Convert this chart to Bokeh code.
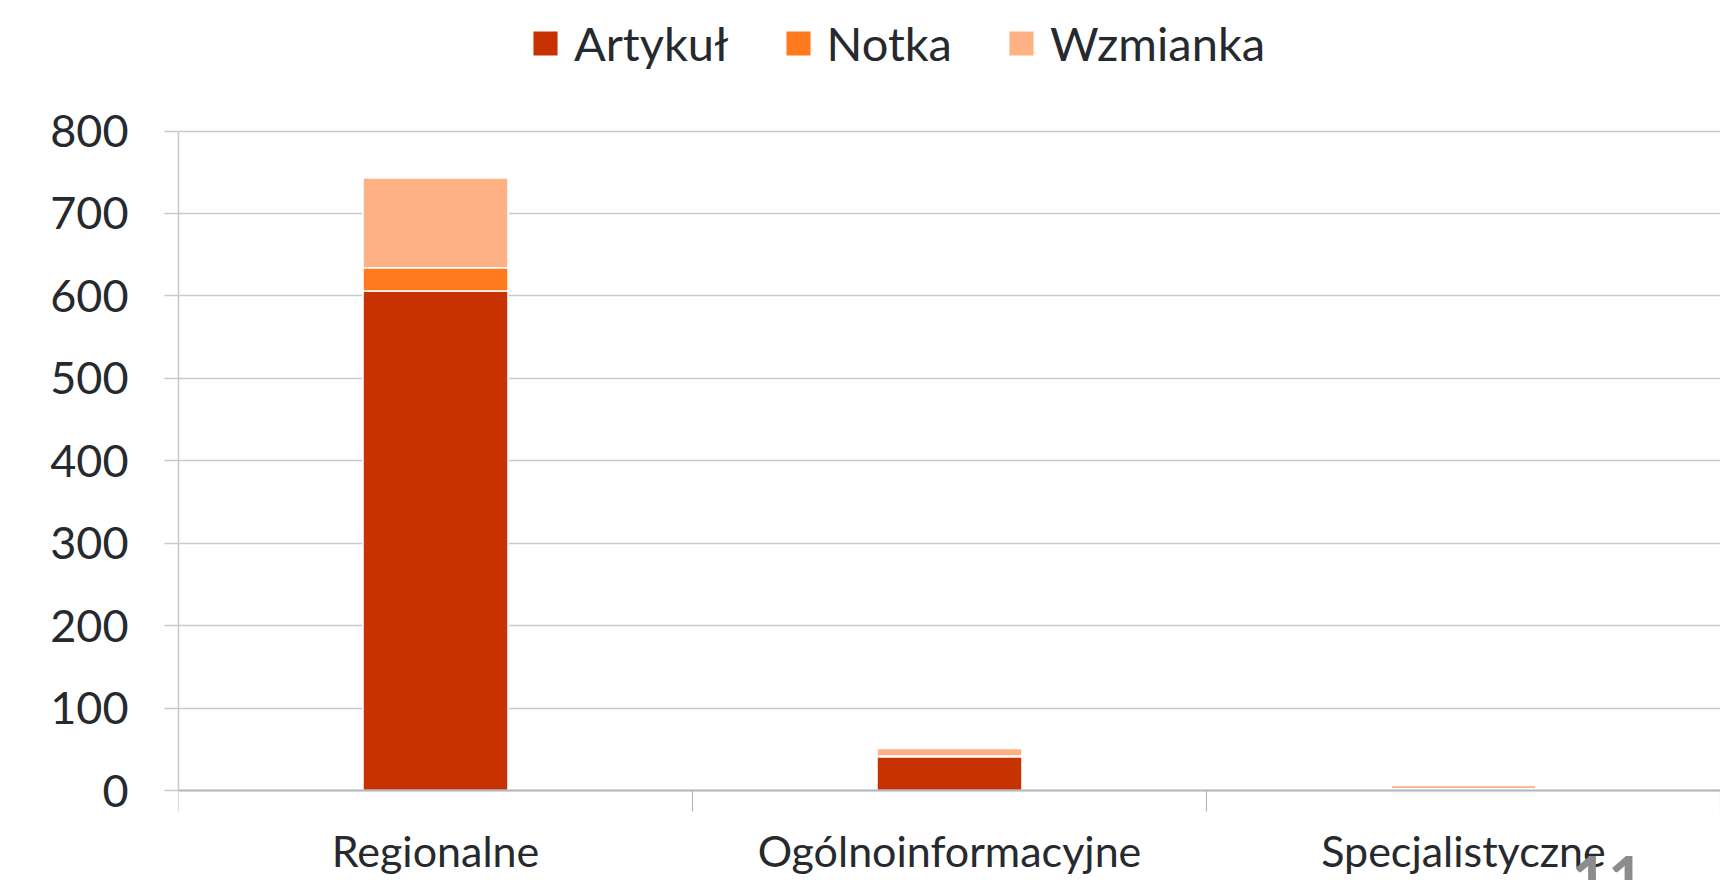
from bokeh.plotting import figure
from bokeh.models import (ColumnDataSource, Range1d, FixedTicker, Legend, LegendItem, Label)
from bokeh.embed import file_html
from bokeh.resources import INLINE

categories = ["Regionalne", "Ogólnoinformacyjne", "Specjalistyczne"]
series = ["Artykuł", "Notka", "Wzmianka"]
artykul = [606, 41, 2]
notka = [28, 1, 0]
wzmianka = [109, 9, 4]
colors = ["#C83200", "#FF7A1C", "#FFB186"]
y_ticks = [0, 100, 200, 300, 400, 500, 600, 700, 800]
page_number = "11"

FONT = "Lato"
TEXT = "#262A2E"
GRID = "#C6CACF"

# frame covers the whole canvas height; 0 sits at 790px, 800 at 130.5px
PX_PER_UNIT = (790 - 130.5) / 800
Y_TOP = 790 / PX_PER_UNIT
Y_BOTTOM = -(880 - 790) / PX_PER_UNIT

x = [i + 0.5 for i in range(len(categories))]
src = ColumnDataSource(dict(x=x, Artykuł=artykul, Notka=notka, Wzmianka=wzmianka))

p = figure(width=1720, height=880, output_backend="svg", toolbar_location=None,
           x_range=Range1d(0, len(categories)), y_range=Range1d(Y_BOTTOM, Y_TOP),
           min_border_left=178, min_border_right=0, min_border_top=0,
           min_border_bottom=0)
p.outline_line_color = None

rs = p.vbar_stack(series, x="x", width=0.282, source=src, color=colors,
                  line_color="white", line_width=1.5)

# axes
xa = p.xaxis[0]
xa.fixed_location = 0
xa.ticker = FixedTicker(ticks=x, minor_ticks=list(range(len(categories) + 1)))
xa.major_label_overrides = {xi: c for xi, c in zip(x, categories)}
xa.major_tick_out = 0
xa.major_tick_in = 0
xa.minor_tick_out = 21
xa.minor_tick_in = 0
xa.minor_tick_line_color = "#B4B9BE"
xa.minor_tick_line_width = 1.2
xa.axis_line_color = "#B4B9BE"
xa.axis_line_width = 2
xa.major_label_text_font = FONT
xa.major_label_text_font_size = "43px"
xa.major_label_text_color = TEXT
xa.major_label_standoff = 13

ya = p.yaxis[0]
ya.bounds = (0, 800)
ya.ticker = FixedTicker(ticks=y_ticks)
ya.minor_tick_line_color = None
ya.major_tick_out = 14
ya.major_tick_in = 0
ya.major_tick_line_color = GRID
ya.major_tick_line_width = 1.5
ya.axis_line_color = GRID
ya.axis_line_width = 1.5
ya.major_label_text_font = FONT
ya.major_label_text_font_size = "45px"
ya.major_label_text_color = TEXT
ya.major_label_standoff = 36

p.xgrid.grid_line_color = None
p.ygrid.ticker = FixedTicker(ticks=y_ticks)
p.ygrid.grid_line_color = GRID
p.ygrid.grid_line_width = 1.5

legend = Legend(items=[LegendItem(label=s, renderers=[r]) for s, r in zip(series, rs)],
                orientation="horizontal", location=(351, 809),
                glyph_width=32, glyph_height=32, label_standoff=13, spacing=53,
                padding=0, margin=0, border_line_color=None,
                background_fill_alpha=0,
                label_text_font=FONT, label_text_font_size="47px",
                label_text_color=TEXT)
p.add_layout(legend, "center")

page_no = Label(x=2.71, y=-79, text=page_number,
                text_font=FONT, text_font_size="63px", text_font_style="bold",
                text_color="#8C8C8C", text_baseline="top")
p.add_layout(page_no)

open("out.html", "w").write(file_html(p, INLINE))
